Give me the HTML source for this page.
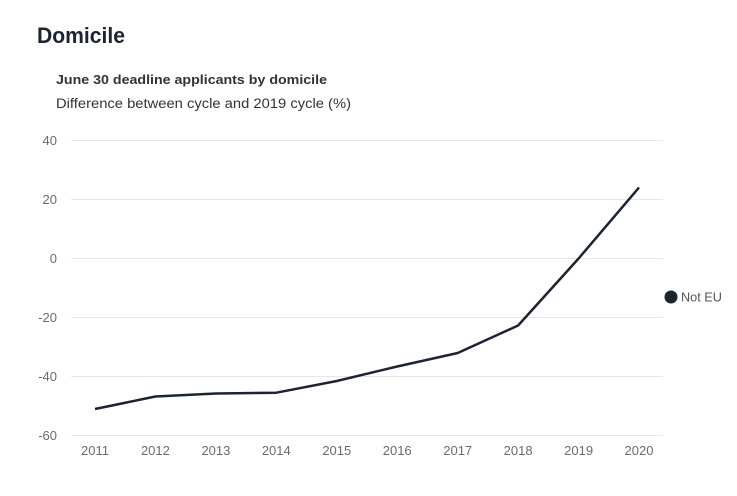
<!DOCTYPE html>
<html><head><meta charset="utf-8"><style>
html,body{margin:0;padding:0;background:#fff;}
svg{display:block;font-family:"Liberation Sans",sans-serif;}
</style></head><body>
<svg width="737" height="496" viewBox="0 0 737 496" xmlns="http://www.w3.org/2000/svg">
<text x="37" y="43" font-size="22" font-weight="bold" fill="#1c2433" textLength="88" lengthAdjust="spacingAndGlyphs">Domicile</text>
<text x="56" y="84" font-size="13" font-weight="bold" fill="#333" textLength="271" lengthAdjust="spacingAndGlyphs">June 30 deadline applicants by domicile</text>
<text x="56" y="108" font-size="13.5" fill="#333" textLength="295" lengthAdjust="spacingAndGlyphs">Difference between cycle and 2019 cycle (%)</text>
<g stroke="#e6e6e6" stroke-width="1">
<line x1="71" x2="663" y1="140.5" y2="140.5"/>
<line x1="71" x2="663" y1="199.5" y2="199.5"/>
<line x1="71" x2="663" y1="258.5" y2="258.5"/>
<line x1="71" x2="663" y1="317.5" y2="317.5"/>
<line x1="71" x2="663" y1="376.5" y2="376.5"/>
<line x1="71" x2="663" y1="435.5" y2="435.5"/>
</g>
<g font-size="13" fill="#6b6b6b" text-anchor="end">
<text x="57" y="145">40</text>
<text x="57" y="204">20</text>
<text x="57" y="263">0</text>
<text x="57" y="322">-20</text>
<text x="57" y="381">-40</text>
<text x="57" y="440">-60</text>
</g>
<g font-size="13" fill="#6b6b6b" text-anchor="middle">
<text x="95" y="455">2011</text>
<text x="155.4" y="455">2012</text>
<text x="215.9" y="455">2013</text>
<text x="276.3" y="455">2014</text>
<text x="336.8" y="455">2015</text>
<text x="397.2" y="455">2016</text>
<text x="457.7" y="455">2017</text>
<text x="518.1" y="455">2018</text>
<text x="578.6" y="455">2019</text>
<text x="639" y="455">2020</text>
</g>
<polyline fill="none" stroke="#1c2433" stroke-width="2.5" stroke-linejoin="round" points="95,409 155.4,396.5 215.9,393.5 276.3,392.7 336.8,381 397.2,366.5 457.7,353 518.1,325.5 578.6,258.5 639,187.5"/>
<circle cx="671" cy="297" r="6.5" fill="#1c2433"/>
<text x="681" y="301.5" font-size="12.7" fill="#555">Not EU</text>
</svg>
</body></html>
